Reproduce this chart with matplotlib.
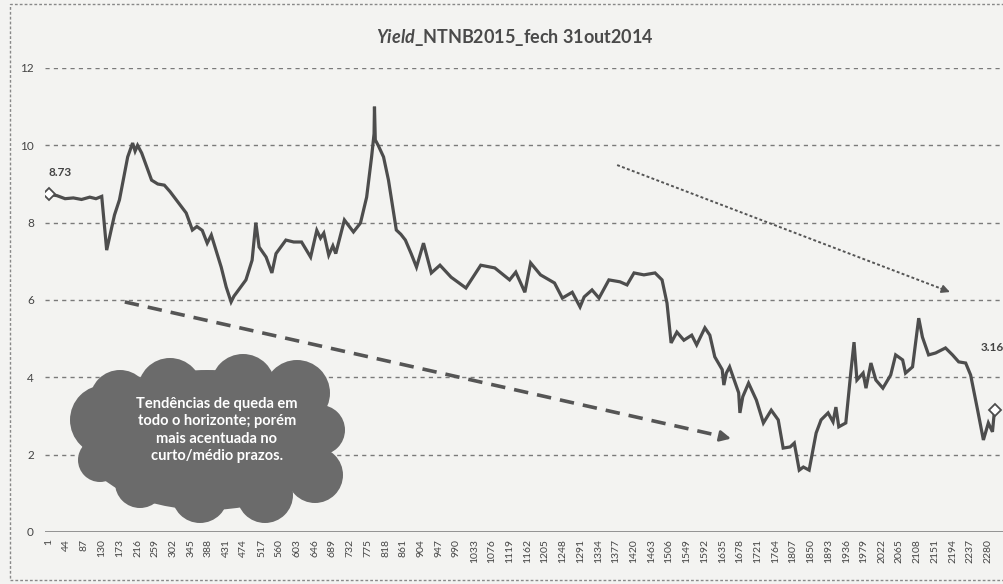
import numpy as np
import matplotlib
matplotlib.use("Agg")
import matplotlib.pyplot as plt
from matplotlib.patches import Ellipse, Rectangle

plt.rcParams['font.family'] = ['Lato', 'DejaVu Sans']
plt.rcParams['mathtext.fontset'] = 'custom'
plt.rcParams['mathtext.it'] = 'Lato:italic:bold'

# yield (trading day index, %)
day = [1, 20, 40, 60, 80, 100, 115, 129, 141, 160, 172, 192, 204, 210, 216, 226, 250, 265,
       281, 295, 310, 334, 349, 360, 373, 385, 395, 419, 431, 443, 450, 457, 479, 494, 503,
       511, 528, 542, 552, 576, 595, 614, 636, 651, 660, 668, 680, 690, 697, 718, 740, 757,
       772, 784, 790, 791, 793, 800, 813, 825, 844, 855, 866, 880, 893, 910, 929, 950, 977,
       1013, 1049, 1083, 1119, 1134, 1156, 1170, 1194, 1228, 1247, 1271, 1290, 1300, 1319,
       1336, 1360, 1387, 1404, 1421, 1445, 1472, 1489, 1501, 1511, 1525, 1542, 1561, 1573,
       1593, 1605, 1617, 1635, 1639, 1645, 1653, 1675, 1678, 1685, 1699, 1718, 1735, 1754,
       1771, 1783, 1800, 1810, 1822, 1832, 1846, 1863, 1875, 1892, 1904, 1911, 1918, 1935,
       1947, 1955, 1962, 1977, 1984, 1996, 2008, 2025, 2044, 2056, 2073, 2080, 2097, 2112,
       2121, 2136, 2153, 2177, 2194, 2209, 2226, 2238, 2255, 2269, 2281, 2291, 2296]
yld = [8.73, 8.70, 8.62, 8.64, 8.60, 8.66, 8.62, 8.68, 7.29, 8.2, 8.59, 9.7, 10.06, 9.85,
       10.0, 9.8, 9.1, 9.0, 8.97, 8.8, 8.59, 8.25, 7.81, 7.9, 7.8, 7.47, 7.68, 6.85, 6.34,
       5.95, 6.1, 6.2, 6.52, 7.03, 8.0, 7.37, 7.11, 6.7, 7.2, 7.55, 7.5, 7.5, 7.11, 7.8, 7.6,
       7.73, 7.16, 7.4, 7.2, 8.07, 7.76, 7.99, 8.66, 9.7, 10.3, 11.0, 10.14, 10.0, 9.7, 9.1,
       7.81, 7.7, 7.55, 7.2, 6.85, 7.47, 6.7, 6.9, 6.59, 6.31, 6.9, 6.83, 6.52, 6.72, 6.2,
       6.96, 6.65, 6.44, 6.05, 6.2, 5.82, 6.08, 6.26, 6.05, 6.52, 6.47, 6.39, 6.7, 6.65, 6.7,
       6.52, 5.92, 4.89, 5.17, 4.96, 5.09, 4.84, 5.28, 5.09, 4.53, 4.2, 3.8, 4.11, 4.27, 3.6,
       3.08, 3.5, 3.85, 3.41, 2.82, 3.15, 2.9, 2.17, 2.2, 2.3, 1.6, 1.68, 1.6, 2.56, 2.9,
       3.08, 2.85, 3.23, 2.72, 2.82, 4.11, 4.91, 3.93, 4.11, 3.72, 4.37, 3.93, 3.72, 4.06,
       4.58, 4.45, 4.11, 4.27, 5.53, 5.04, 4.58, 4.63, 4.76, 4.58, 4.4, 4.37, 4.06, 3.15,
       2.38, 2.82, 2.59, 3.16]

xticks = list(range(1, 2281, 43))
yticks = [0, 2, 4, 6, 8, 10, 12]
title = r'$\mathit{Yield}$_NTNB2015_fech 31out2014'
cloud_text = "Tendências de queda em\ntodo o horizonte; porém\nmais acentuada no\ncurto/médio prazos."

W, H = 1004, 584
fig = plt.figure(figsize=(W / 100, H / 100), dpi=100, facecolor='#f3f3f1')
ax = fig.add_axes([45 / W, 52 / H, 959 / W, 464 / H])
ax.set_facecolor('none')

ax.plot(day, yld, color='#4d4d4d', lw=2.3, solid_joinstyle='miter', zorder=3)
ax.plot(day[0], yld[0], marker='D', ms=6, mfc='white', mec='#4d4d4d', mew=1.3, zorder=4)
ax.plot(day[-1], yld[-1], marker='D', ms=6, mfc='white', mec='#4d4d4d', mew=1.3, zorder=4)
ax.text(day[0], 9.31, '%.2f' % yld[0], fontsize=8.5, color='#444', fontweight='bold',
        ha='left', va='center')
ax.text(2262, 4.78, '%.2f' % yld[-1], fontsize=8.5, color='#444', fontweight='bold',
        ha='left', va='center', clip_on=False)

ax.set_xlim(-8.7, 2319)
ax.set_ylim(0, 12)
ax.set_yticks(yticks)
ax.set_xticks(xticks)
ax.set_xticklabels([str(t) for t in xticks], rotation=90, fontsize=7.5, color='#444')
ax.tick_params(axis='y', length=0, pad=8, labelsize=8.5, labelcolor='#444')
ax.tick_params(axis='x', length=0, pad=5)
for s in ax.spines.values():
    s.set_visible(False)
for v in yticks[1:]:
    ax.axhline(v, color='#7a7a7a', lw=1, ls=(0, (3, 3)), zorder=1)
ax.axhline(0, color='#8a8a8a', lw=1.3, zorder=1)

# thick dashed trend arrow
ax.plot([185, 1640], [5.95, 2.46], color='#555', lw=2.6, ls=(0, (4, 2.5)), zorder=2)
ax.annotate('', xy=(1663, 2.40), xytext=(1630, 2.48),
            arrowprops=dict(arrowstyle='-|>', color='#555', lw=2, mutation_scale=16))
# thin dotted trend arrow
ax.plot([1380, 2175], [9.49, 6.26], color='#555', lw=1.4, ls=(0, (1.5, 1.2)), zorder=2)
ax.annotate('', xy=(2194, 6.18), xytext=(2160, 6.32),
            arrowprops=dict(arrowstyle='-|>', color='#555', lw=1.2, mutation_scale=12))

fig.text(0.513, 1 - 38 / H, title, ha='center', va='center', fontsize=13,
         fontweight='bold', color='#4a4a4a')

# cloud callout built from overlapping ellipses (image pixels)
blobs = [(207, 440, 250, 140), (105, 420, 70, 70), (120, 400, 60, 60), (170, 390, 64, 64),
         (243, 386, 64, 64), (297, 393, 66, 66), (320, 430, 50, 50), (315, 475, 56, 56),
         (265, 495, 56, 56), (200, 495, 56, 56), (140, 483, 50, 50), (100, 460, 44, 44)]
for cx, cy, w, h in blobs:
    fig.patches.append(Ellipse((cx / 100, (H - cy) / 100), w / 100, h / 100,
                               transform=fig.dpi_scale_trans, facecolor='#6b6b6b',
                               edgecolor='none', zorder=5))
fig.text(217 / W, 1 - 430 / H, cloud_text, ha='center', va='center', fontsize=10.5,
         fontweight='bold', color='white', linespacing=1.3, zorder=6)

# dashed frame of the scanned page
fig.patches.append(Rectangle((10 / W, 4 / H), 1.2, 576 / H, transform=fig.transFigure,
                             fill=False, edgecolor='#888', lw=1, ls=(0, (2, 1.5))))

fig.savefig('out.png', dpi=100, facecolor=fig.get_facecolor())
